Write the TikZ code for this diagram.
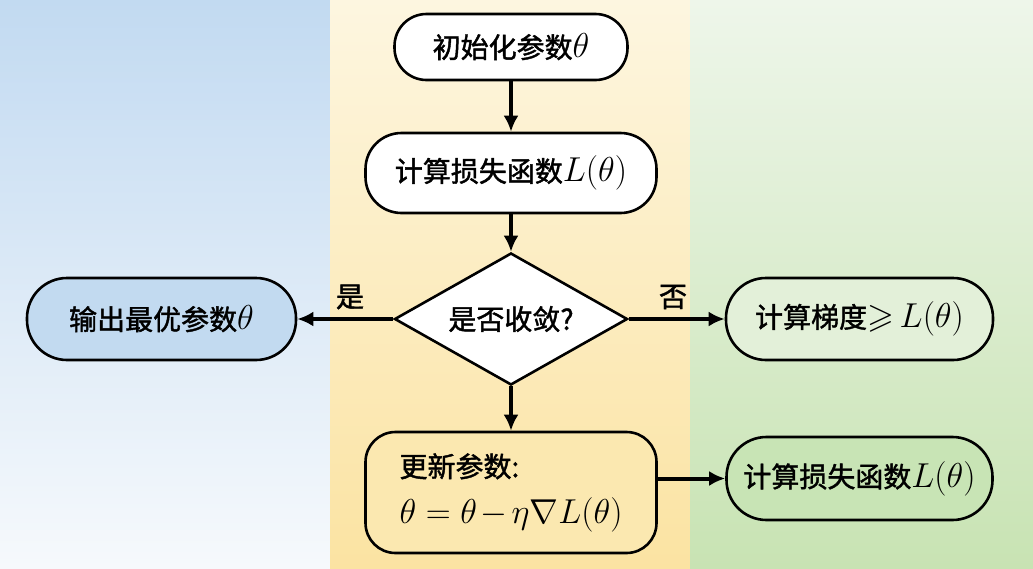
\documentclass[tikz,border=0pt]{standalone}
\usepackage{amssymb}
\usepackage{fontspec}
\newfontfamily\cjk[FakeBold=1.5]{Noto Sans CJK SC}
\usetikzlibrary{shapes.geometric,arrows.meta}
\newcommand{\mth}[1]{{\fontsize{17.28}{20}\selectfont$#1$}}
\definecolor{bgbluetop}{HTML}{C2DAF1}
\definecolor{bgbluebot}{HTML}{F6F9FC}
\definecolor{bgyeltop}{HTML}{FDF6E0}
\definecolor{bgyelbot}{HTML}{FBE3A2}
\definecolor{bggrntop}{HTML}{EEF6EA}
\definecolor{bggrnbot}{HTML}{C8E3B3}
\definecolor{outblue}{HTML}{C2DAF0}
\definecolor{gradgreen}{HTML}{E3F0D9}
\definecolor{lossgreen}{HTML}{C8E4B5}
\definecolor{updyellow}{HTML}{FBE8B0}
\tikzset{
  cjkfont/.style={font=\cjk\fontsize{14}{16}\selectfont},
  box/.style={draw=black, line width=1.3pt, rounded corners=16pt, cjkfont, align=center, inner sep=0pt},
  arr/.style={line width=2pt, -{Latex[length=8pt,width=7.5pt]}},
  lbl/.style={cjkfont},
}
\begin{document}
\begin{tikzpicture}[x=0.5pt,y=-0.5pt]
\useasboundingbox (0,0) rectangle (1033,568);
\shade[top color=bgbluetop, bottom color=bgbluebot] (0,0) rectangle (330,568);
\shade[top color=bgyeltop, bottom color=bgyelbot] (330,0) rectangle (690,568);
\shade[top color=bggrntop, bottom color=bggrnbot] (690,0) rectangle (1033,568);

\node[box, fill=white, minimum width=116.5pt, minimum height=33pt] (init) at (511,47) {初始化参数\mth{\theta}};
\node[box, fill=white, minimum width=145.5pt, minimum height=40pt, rounded corners=18pt] (loss1) at (511,173) {计算损失函数\mth{L(\theta)}};
\node[diamond, draw=black, line width=1.3pt, fill=white, minimum width=116.5pt, minimum height=66pt, inner sep=0pt, aspect=1.77, cjkfont] (conv) at (511,319) {是否收敛?};
\node[box, fill=outblue, minimum width=134.5pt, minimum height=41pt, rounded corners=20pt] (out) at (161.5,319) {输出最优参数\mth{\theta}};
\node[box, fill=gradgreen, minimum width=133.5pt, minimum height=41pt, rounded corners=20pt] (grad) at (859.5,319) {计算梯度\mth{\mathord{\geqslant}\,L(\theta)}};
\node[box, fill=updyellow, minimum width=145.5pt, minimum height=60.5pt, rounded corners=15pt, align=left, text width=111.5pt] (upd) at (511,492.5) {更新参数:\\[7pt]\mth{\theta=\theta-\eta\nabla L(\theta)}};
\node[box, fill=lossgreen, minimum width=133pt, minimum height=41.5pt, rounded corners=20pt] (loss2) at (859.5,478.5) {计算损失函数\mth{L(\theta)}};

\draw[arr] (init) -- (loss1);
\draw[arr] (loss1) -- (conv);
\draw[arr] (conv) -- (upd);
\draw[arr] (conv) -- (out);
\draw[arr] (conv) -- (grad);
\draw[arr] (upd.east |- loss2.west) -- (loss2.west);

\node[lbl] (yes) at (350,297) {是};
\node[lbl] (no) at (673,297) {否};
\end{tikzpicture}
\end{document}
